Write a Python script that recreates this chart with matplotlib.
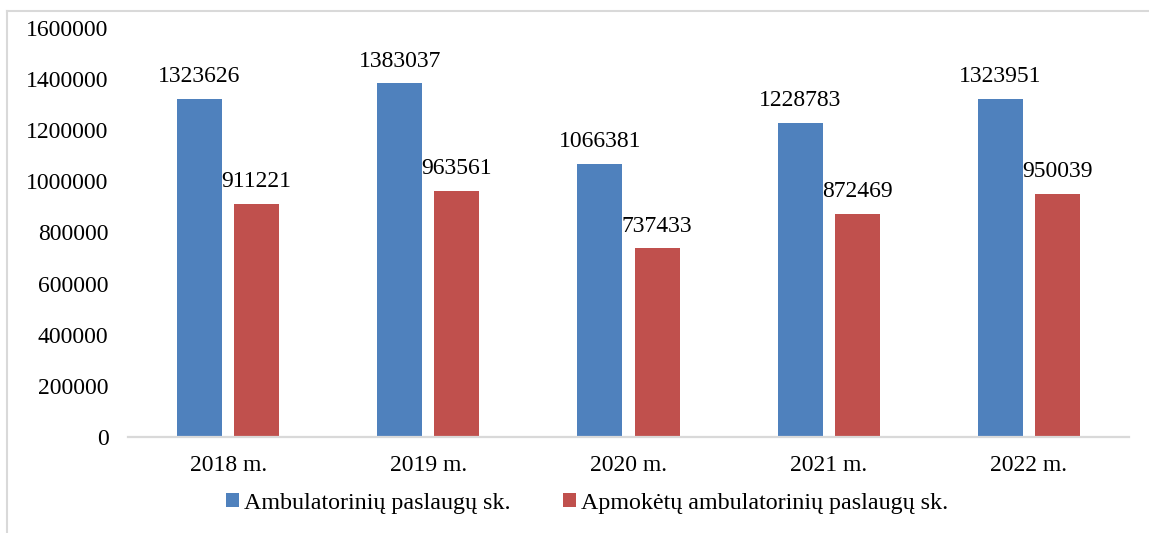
import matplotlib
matplotlib.use("Agg")
import matplotlib.pyplot as plt
from matplotlib.lines import Line2D
from matplotlib.patches import Patch
import numpy as np

categories = ["2018 m.", "2019 m.", "2020 m.", "2021 m.", "2022 m."]
ambulatory = [1323626, 1383037, 1066381, 1228783, 1323951]
paid = [911221, 963561, 737433, 872469, 950039]
series_names = ["Ambulatorinių paslaugų sk.", "Apmokėtų ambulatorinių paslaugų sk."]
yticks = [0, 200000, 400000, 600000, 800000, 1000000, 1200000, 1400000, 1600000]

plt.rcParams['font.family'] = ['Liberation Serif', 'DejaVu Serif']
FS = 17.0
blue = "#4F81BD"
red = "#C0504D"
W, H = 1149, 533
fig = plt.figure(figsize=(W / 100, H / 100), dpi=100)
ax = fig.add_axes([128 / W, (H - 437) / H, (1129 - 128) / W, (437 - 28) / H])

x = np.arange(len(categories))
bw = 0.225
off = 0.1425
b1 = ax.bar(x - off, ambulatory, bw, color=blue, label=series_names[0])
b2 = ax.bar(x + off, paid, bw, color=red, label=series_names[1])

for bars, vals in ((b1, ambulatory), (b2, paid)):
    for rect, v in zip(bars, vals):
        ax.annotate(str(v), (rect.get_x() + rect.get_width() / 2, v),
                    xytext=(0, 12.2), textcoords="offset points",
                    ha="center", va="baseline", fontsize=FS, color="black")

ax.set_xlim(-0.5, len(categories) - 0.5)
ax.set_ylim(0, 1600000)
ax.set_yticks(yticks)
ax.set_yticklabels([str(t) for t in yticks], fontsize=FS)
ax.set_xticks(x)
ax.set_xticklabels(categories, fontsize=FS)
ax.tick_params(axis="both", length=0)
ax.tick_params(axis="y", pad=14)
ax.tick_params(axis="x", pad=13)
for s in ("left", "top", "right"):
    ax.spines[s].set_visible(False)
ax.spines["bottom"].set_color("#d9d9d9")
ax.spines["bottom"].set_linewidth(1.6)

handles = [Patch(facecolor=blue), Patch(facecolor=red)]
fig.legend(handles, series_names, loc="center", bbox_to_anchor=(587 / W, (H - 503) / H),
           ncol=2, frameon=False, prop={"size": 17.3}, handlelength=0.55, handleheight=0.55,
           handletextpad=0.2, columnspacing=2.2)

# outer border
fig.add_artist(Line2D([7 / W, 7 / W], [0, (H - 10.5) / H], color="#d9d9d9", lw=1.5,
                      transform=fig.transFigure))
fig.add_artist(Line2D([7 / W, 1], [(H - 10.5) / H, (H - 10.5) / H], color="#d9d9d9", lw=1.5,
                      transform=fig.transFigure))

fig.savefig("out.png", dpi=100)
